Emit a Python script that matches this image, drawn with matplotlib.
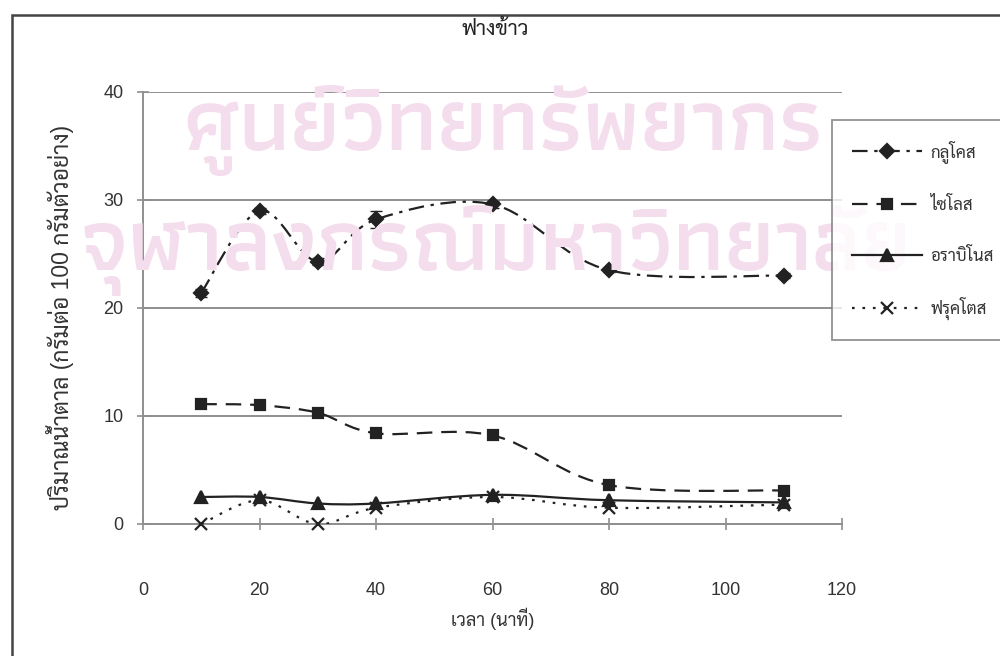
import numpy as np
import matplotlib
matplotlib.use("Agg")
import matplotlib.pyplot as plt
from matplotlib.path import Path
from matplotlib.patches import PathPatch, Rectangle
from matplotlib.lines import Line2D

# data
time_min = [10, 20, 30, 40, 60, 80, 110]
glucose = [21.4, 29.0, 24.3, 28.2, 29.6, 23.5, 23.0]
glucose_err = [0.4, 0.3, 0.3, 0.8, 0.3, 0.2, 0.2]
xylose = [11.1, 11.0, 10.3, 8.4, 8.2, 3.6, 3.1]
arabinose = [2.5, 2.5, 1.9, 1.9, 2.7, 2.2, 2.0]
fructose = [0.0, 2.2, 0.0, 1.5, 2.5, 1.5, 1.8]

names = ["กลูโคส", "ไซโลส", "อราบิโนส", "ฟรุคโตส"]
x_ticks = [0, 20, 40, 60, 80, 100, 120]
y_ticks = [0, 10, 20, 30, 40]

title = "ฟางข้าว"
x_label = "เวลา (นาที)"
y_label = "ปริมาณน้ำตาล (กรัมต่อ 100 กรัมตัวอย่าง)"
wm_line1 = "ศูนย์วิทยทรัพยากร"
wm_line2 = "จุฬาลงกรณ์มหาวิทยาลัย"

plt.rcParams['font.family'] = ['Liberation Sans', 'Sarabun', 'DejaVu Sans']
ink = '#222222'


def smooth_path(x, y):
    # excel style smoothed line (bezier through every point)
    p = np.column_stack([x, y]).astype(float)
    n = len(p)
    verts = [p[0]]
    codes = [Path.MOVETO]
    for i in range(n - 1):
        p0 = p[i - 1] if i > 0 else p[i]
        p3 = p[i + 2] if i + 2 < n else p[i + 1]
        c1 = p[i] + (p[i + 1] - p0) / 6.0
        c2 = p[i + 1] - (p3 - p[i]) / 6.0
        verts += [c1, c2, p[i + 1]]
        codes += [Path.CURVE4] * 3
    return Path(verts, codes)


fig = plt.figure(figsize=(10, 6.56), dpi=100)

# watermark and page frame
fig.text(0.503, 1 - 130 / 656, wm_line1, ha='center', va='center', fontsize=64,
         color='#f4ddec', family=['Athiti', 'Kanit'], weight='semibold', zorder=0)
fig.text(0.495, 1 - 250 / 656, wm_line2, ha='center', va='center', fontsize=64,
         color='#f4ddec', family=['Athiti', 'Kanit'], weight='semibold', zorder=0)
fig.patches.append(Rectangle((12 / 1000, -0.01), 1.2, 1 - 15 / 656 + 0.01,
                             transform=fig.transFigure, fill=False,
                             edgecolor='#444444', lw=1.8, zorder=0))

ax = fig.add_axes([0.143, 1 - 524 / 656, 0.699, (524 - 92) / 656])
ax.patch.set_alpha(0)
ax.set_xlim(0, 120)
ax.set_ylim(0, 40)

series = [
    (glucose, 'D', (0, (7, 3, 1.5, 3)), 7),
    (xylose, 's', (0, (7, 4)), 7.5),
    (arabinose, '^', '-', 8),
    (fructose, 'x', (0, (1.2, 3.5)), 8),
]

handles = []
for (vals, mk, ls, ms), name in zip(series, names):
    ax.add_patch(PathPatch(smooth_path(time_min, vals), fill=False,
                           edgecolor=ink, lw=1.6, linestyle=ls, zorder=3))
    ax.plot(time_min, vals, linestyle='none', marker=mk, ms=ms, color=ink,
            mew=1.6, clip_on=False, zorder=4)
    handles.append(Line2D([], [], color=ink, lw=1.6, linestyle=ls, marker=mk,
                          ms=ms, mew=1.6))

ax.errorbar(time_min, glucose, yerr=glucose_err, fmt='none', ecolor=ink,
            elinewidth=1.2, capsize=4, zorder=4)

ax.set_yticks(y_ticks)
ax.set_xticks(x_ticks)
ax.yaxis.grid(True, color='#8f8f8f', lw=1.4)
ax.set_axisbelow(True)
for s in ['top', 'right']:
    ax.spines[s].set_visible(False)
for s in ['left', 'bottom']:
    ax.spines[s].set_color('#8f8f8f')
    ax.spines[s].set_linewidth(1.4)
ax.tick_params(axis='both', direction='inout', length=8, width=1.2,
               color='#8f8f8f', labelsize=13, labelcolor='#333333')
ax.tick_params(axis='x', pad=38)
ax.tick_params(axis='y', pad=10)

fig.text(0.495, 1 - 29 / 656, title, ha='center', va='center', fontsize=15,
         color='#222222')
ax.set_xlabel(x_label, fontsize=13, color='#333333', labelpad=6)
fig.text(0.060, 1 - 317 / 656, y_label, rotation=90, ha='center', va='center',
         fontsize=16.5, color='#333333')

leg = fig.legend(handles, names, loc='upper left',
                 bbox_to_anchor=(832 / 1000, 1 - 120 / 656), borderaxespad=0,
                 frameon=True, fancybox=False, edgecolor='#777777',
                 fontsize=12, handlelength=4.2, labelspacing=2.0,
                 borderpad=1.2, handletextpad=0.5)
leg.get_frame().set_linewidth(1.3)
for t in leg.get_texts():
    t.set_color('#333333')

fig.savefig('out.png', dpi=100)
